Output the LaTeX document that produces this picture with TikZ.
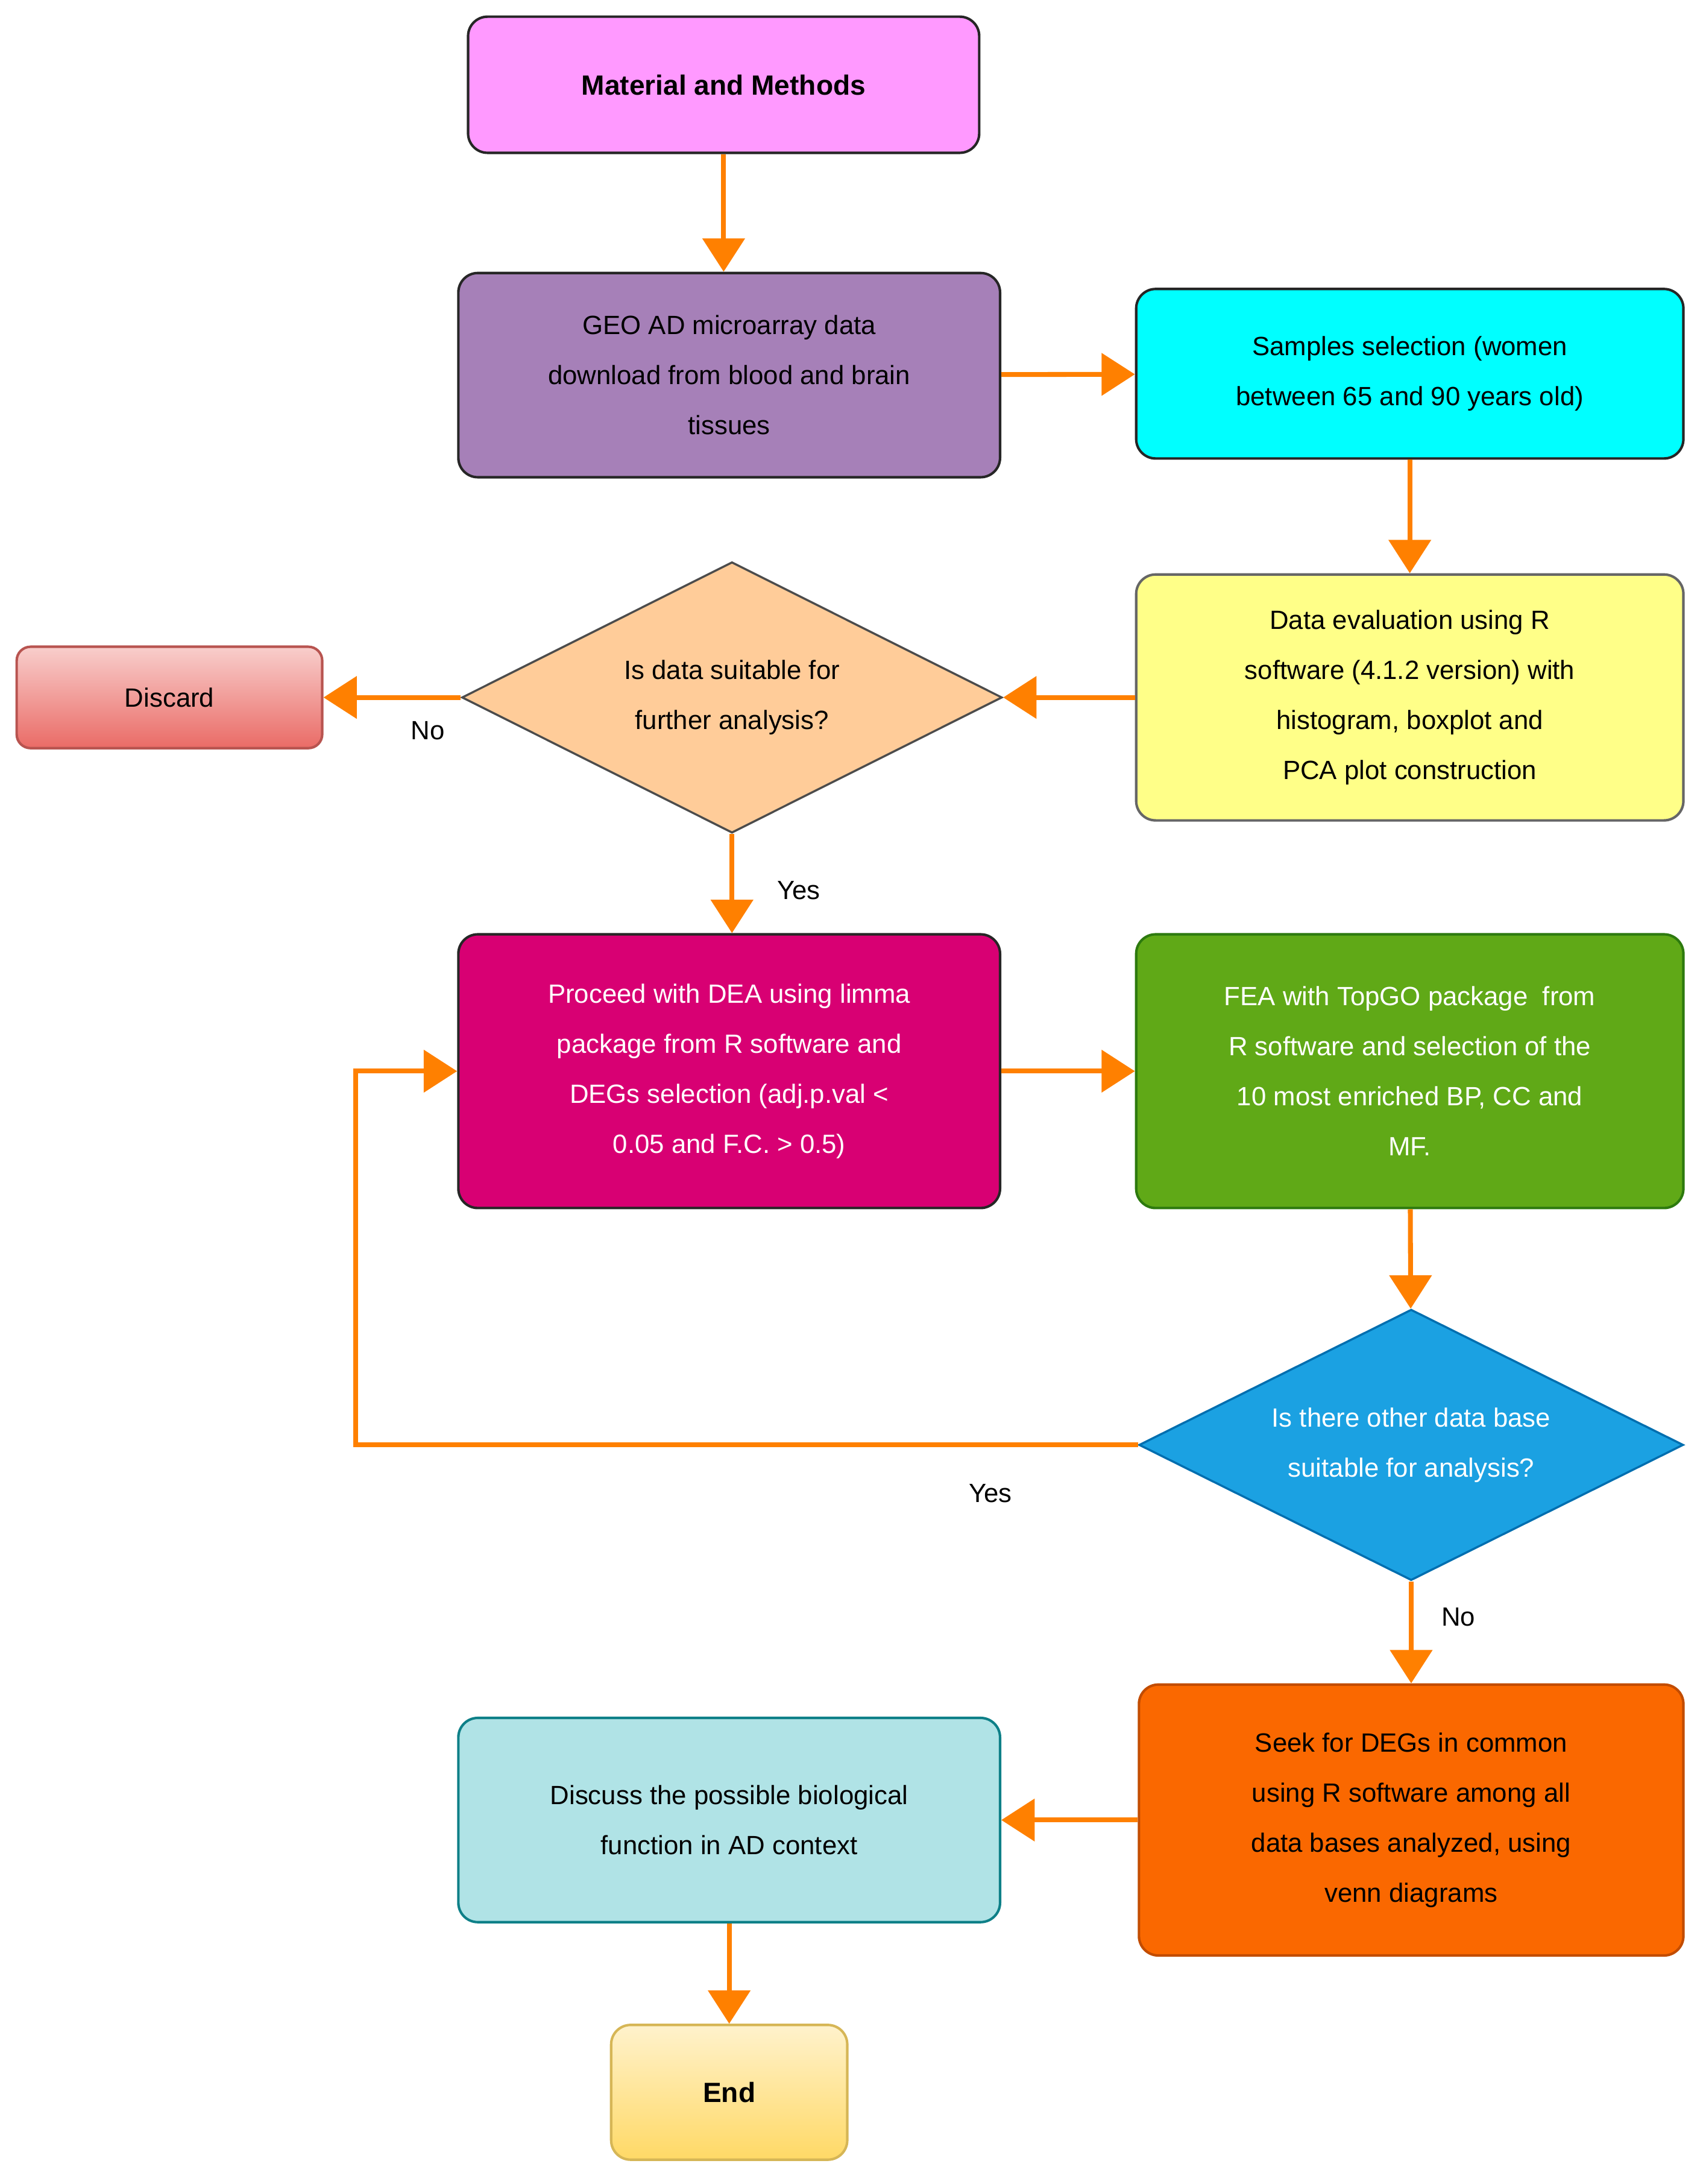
\documentclass[tikz,border=0pt]{standalone}
\usepackage{fontspec}
\setmainfont{Liberation Sans}
\usetikzlibrary{shapes.geometric,arrows.meta}
\begin{document}
\begin{tikzpicture}[x=1pt,y=-1pt,
 box/.style={draw=black!85,line width=1.8pt,rounded corners=14pt,align=center,font=\fontsize{19}{36}\selectfont,inner sep=2pt},
 dia/.style={diamond,draw=black!70,line width=1.5pt,align=center,font=\fontsize{19}{36}\selectfont,aspect=2,inner sep=0pt},
 arr/.style={draw={rgb,255:red,255;green,128;blue,0},line width=3.5pt,-{Triangle[length=24pt,width=30pt]}},
 lbl/.style={font=\fontsize{19}{23}\selectfont}]
\useasboundingbox (0,0) rectangle (1228,1572);
\node[box,fill={rgb,255:red,255;green,153;blue,255},minimum width=368pt,minimum height=98pt,font=\fontsize{20}{24}\selectfont\bfseries] (mm) at (521,61) {Material and Methods};
\node[box,fill={rgb,255:red,166;green,128;blue,184},minimum width=390pt,minimum height=147pt] (geo) at (525,270) {GEO AD microarray data\\download from blood and brain\\tissues};
\node[box,fill={rgb,255:red,0;green,255;blue,255},minimum width=394pt,minimum height=122pt] (smp) at (1015,269) {Samples selection (women\\between 65 and 90 years old)};
\node[box,draw=black!60,fill={rgb,255:red,255;green,255;blue,136},minimum width=394pt,minimum height=177pt] (ev) at (1015,502) {Data evaluation using R\\software (4.1.2 version) with\\histogram, boxplot and\\PCA plot construction};
\node[dia,fill={rgb,255:red,255;green,204;blue,153},minimum width=389pt,minimum height=195pt] (d1) at (527,502) {Is data suitable for\\further analysis?};
\node[box,draw={rgb,255:red,184;green,84;blue,80},top color={rgb,255:red,248;green,206;blue,204},bottom color={rgb,255:red,234;green,107;blue,102},minimum width=220pt,minimum height=73pt,rounded corners=10pt] (dis) at (122,502) {Discard};
\node[box,fill={rgb,255:red,216;green,0;blue,115},text=white,minimum width=390pt,minimum height=197pt] (dea) at (525,771) {Proceed with DEA using limma\\package from R software and\\DEGs selection (adj.p.val <\\0.05 and F.C. > 0.5)};
\node[box,draw={rgb,255:red,45;green,122;blue,14},fill={rgb,255:red,96;green,169;blue,23},text=white,minimum width=394pt,minimum height=197pt] (fea) at (1015,771) {FEA with TopGO package\ \ from\\R software and selection of the\\10 most enriched BP, CC and\\MF.};
\node[dia,draw={rgb,255:red,0;green,110;blue,175},fill={rgb,255:red,27;green,161;blue,226},text=white,minimum width=392pt,minimum height=195pt] (d2) at (1016,1040) {Is there other data base\\suitable for analysis?};
\node[box,draw={rgb,255:red,194;green,76;blue,0},fill={rgb,255:red,250;green,104;blue,0},minimum width=392pt,minimum height=195pt] (seek) at (1016,1310) {Seek for DEGs in common\\using R software among all\\data bases analyzed, using\\venn diagrams};
\node[box,draw={rgb,255:red,14;green,128;blue,136},fill={rgb,255:red,176;green,227;blue,230},minimum width=390pt,minimum height=147pt] (dsc) at (525,1310) {Discuss the possible biological\\function in AD context};
\node[box,draw={rgb,255:red,214;green,182;blue,86},top color={rgb,255:red,255;green,242;blue,204},bottom color={rgb,255:red,255;green,217;blue,102},minimum width=170pt,minimum height=97pt,font=\fontsize{20}{24}\selectfont\bfseries] (end) at (525,1506) {End};
\coordinate (c1) at (256,1040);
\coordinate (c2) at (256,771);
\draw[arr] (mm) -- (geo.north -| mm);
\draw[arr] (geo) -- (smp);
\draw[arr] (smp) -- (ev);
\draw[arr] (ev) -- (d1);
\draw[arr] (d1) -- (dis);
\draw[arr] (d1) -- (dea.north -| d1);
\draw[arr] (dea) -- (fea);
\draw[arr] (fea) -- (d2);
\draw[arr] (d2.west) -- (c1) -- (c2) -- (dea.west);
\draw[arr] (d2) -- (seek);
\draw[arr] (seek) -- (dsc);
\draw[arr] (dsc) -- (end);
\node[lbl] (l1) at (308,526) {No};
\node[lbl] (l2) at (575,641) {Yes};
\node[lbl] (l3) at (713,1075) {Yes};
\node[lbl] (l4) at (1050,1164) {No};
\end{tikzpicture}
\end{document}
